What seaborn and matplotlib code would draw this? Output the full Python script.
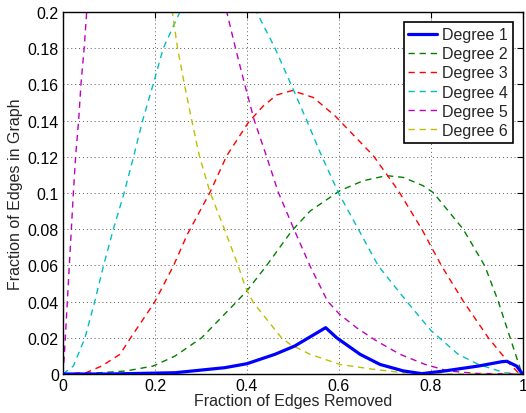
import matplotlib
matplotlib.use("Agg")
import matplotlib.pyplot as plt
import seaborn as sns
import pandas as pd
from matplotlib.ticker import FuncFormatter, FixedLocator

# ---- data ----
labels = ["Degree 1", "Degree 2", "Degree 3", "Degree 4", "Degree 5", "Degree 6"]

deg1_x = [0.0, 0.1, 0.2435, 0.352, 0.40, 0.461, 0.504, 0.571, 0.595, 0.6457, 0.689, 0.74, 0.78, 0.83, 0.903, 0.954, 0.965, 0.986, 0.997, 1.0]
deg1_y = [0.0, 0.0, 0.0007, 0.0035, 0.0057, 0.0109, 0.0155, 0.0256, 0.020, 0.0109, 0.0053, 0.0017, 0.0002, 0.0017, 0.0044, 0.0068, 0.0070, 0.0044, 0.0007, 0.0]

deg2_x = [0.0, 0.08, 0.138, 0.196, 0.2435, 0.3014, 0.372, 0.40, 0.442, 0.497, 0.537, 0.602, 0.653, 0.7036, 0.74, 0.783, 0.805, 0.870, 0.917, 0.946, 0.972, 0.997, 1.0]
deg2_y = [0.0, 0.0007, 0.0017, 0.0044, 0.0099, 0.020, 0.0385, 0.046, 0.0597, 0.079, 0.090, 0.1013, 0.1068, 0.1096, 0.1086, 0.104, 0.1002, 0.080, 0.0597, 0.0403, 0.020, 0.0007, 0.0]

deg3_x = [0.0, 0.05, 0.084, 0.124, 0.147, 0.1985, 0.24, 0.27, 0.3196, 0.356, 0.403, 0.435, 0.465, 0.498, 0.544, 0.591, 0.6746, 0.729, 0.78, 0.823, 0.870, 0.9246, 0.972, 0.99, 1.0]
deg3_y = [0.0, 0.0007, 0.0044, 0.0109, 0.020, 0.0394, 0.0597, 0.077, 0.1004, 0.1206, 0.139, 0.148, 0.1542, 0.1566, 0.1528, 0.1427, 0.1206, 0.1013, 0.080, 0.0597, 0.0403, 0.020, 0.0053, 0.0007, 0.0]

deg4_x = [0.0, 0.0225, 0.0478, 0.0689, 0.088, 0.1094, 0.131, 0.154, 0.173, 0.196, 0.218, 0.254, 0.33, 0.421, 0.461, 0.4957, 0.530, 0.562, 0.600, 0.642, 0.6855, 0.745, 0.80, 0.859, 0.903, 0.96, 1.0]
deg4_y = [0.0, 0.0044, 0.020, 0.040, 0.0597, 0.080, 0.0983, 0.1206, 0.140, 0.160, 0.180, 0.200, 0.235, 0.200, 0.180, 0.160, 0.140, 0.1206, 0.0995, 0.080, 0.0597, 0.0408, 0.024, 0.0109, 0.0053, 0.0007, 0.0]

deg5_x = [0.0, 0.003, 0.0094, 0.0225, 0.0275, 0.034, 0.039, 0.046, 0.0515, 0.12, 0.2, 0.29, 0.356, 0.375, 0.395, 0.416, 0.442, 0.468, 0.5007, 0.537, 0.575, 0.600, 0.638, 0.682, 0.7326, 0.787, 0.837, 0.9, 1.0]
deg5_y = [0.0, 0.011, 0.040, 0.100, 0.1206, 0.140, 0.160, 0.180, 0.200, 0.33, 0.36, 0.30, 0.200, 0.180, 0.160, 0.140, 0.1206, 0.1004, 0.0808, 0.0597, 0.0403, 0.0333, 0.0256, 0.0182, 0.0109, 0.0053, 0.0017, 0.0003, 0.0]

deg6_x = [0.0, 0.12, 0.2377, 0.249, 0.264, 0.280, 0.2964, 0.3196, 0.351, 0.381, 0.397, 0.414, 0.475, 0.4935, 0.537, 0.602, 0.6746, 0.74, 0.8, 1.0]
deg6_y = [0.30, 0.32, 0.200, 0.180, 0.160, 0.140, 0.1206, 0.1004, 0.080, 0.0597, 0.0477, 0.0394, 0.020, 0.0164, 0.0109, 0.0053, 0.0026, 0.0007, 0.0, 0.0]

series_x = [deg1_x, deg2_x, deg3_x, deg4_x, deg5_x, deg6_x]
series_y = [deg1_y, deg2_y, deg3_y, deg4_y, deg5_y, deg6_y]
colors = [(0, 0, 1), (0, 0.5, 0), (1, 0, 0), (0, 0.75, 0.75), (0.75, 0, 0.75), (0.75, 0.75, 0)]

x_ticks = [0, 0.2, 0.4, 0.6, 0.8, 1.0]
y_ticks = [0, 0.02, 0.04, 0.06, 0.08, 0.10, 0.12, 0.14, 0.16, 0.18, 0.20]

# ---- style ----
sns.set_style("white")
plt.rcParams['font.family'] = ['Liberation Sans', 'DejaVu Sans']
FS = 11.5
plt.rcParams['font.size'] = FS

fig = plt.figure(figsize=(5.26, 4.14), dpi=100)
ax = fig.add_axes([63 / 526, (414 - 375) / 414, (523 - 63) / 526, (375 - 13) / 414])

for i, (xs, ys, lab, c) in enumerate(zip(series_x, series_y, labels, colors)):
    df = pd.DataFrame({"x": xs, "y": ys})
    if i == 0:
        sns.lineplot(data=df, x="x", y="y", ax=ax, color=c, lw=2.3, label=lab,
                     estimator=None, sort=False, zorder=3)
    else:
        sns.lineplot(data=df, x="x", y="y", ax=ax, color=c, lw=1.0, label=lab,
                     estimator=None, sort=False, dashes=False, zorder=2)
        ax.lines[-1].set_dashes((4.5, 3.5))

ax.set_xlim(0, 1)
ax.set_ylim(0, 0.2)
fmt = FuncFormatter(lambda v, p: "%g" % round(v, 4))
ax.xaxis.set_major_locator(FixedLocator(x_ticks))
ax.yaxis.set_major_locator(FixedLocator(y_ticks))
ax.xaxis.set_major_formatter(fmt)
ax.yaxis.set_major_formatter(fmt)
ax.tick_params(direction="in", length=4, width=0.8, top=True, right=True,
               labelsize=FS, colors="black", pad=3)
ax.grid(True, linestyle=(0, (1, 3)), color="0.35", lw=0.7)
for s in ax.spines.values():
    s.set_color("black")
    s.set_linewidth(1.0)
    s.set_visible(True)

ax.set_xlabel("Fraction of Edges Removed", fontsize=FS, labelpad=0)
ax.set_ylabel("Fraction of Edges in Graph", fontsize=FS, labelpad=3)

leg = ax.legend(loc="upper right", fontsize=FS, frameon=True, fancybox=False,
                edgecolor="black", framealpha=1, borderpad=0.3, labelspacing=0.26,
                handlelength=1.8, handletextpad=0.3, borderaxespad=0.65)
leg.get_frame().set_linewidth(1.2)

fig.savefig("out.png", dpi=100)
